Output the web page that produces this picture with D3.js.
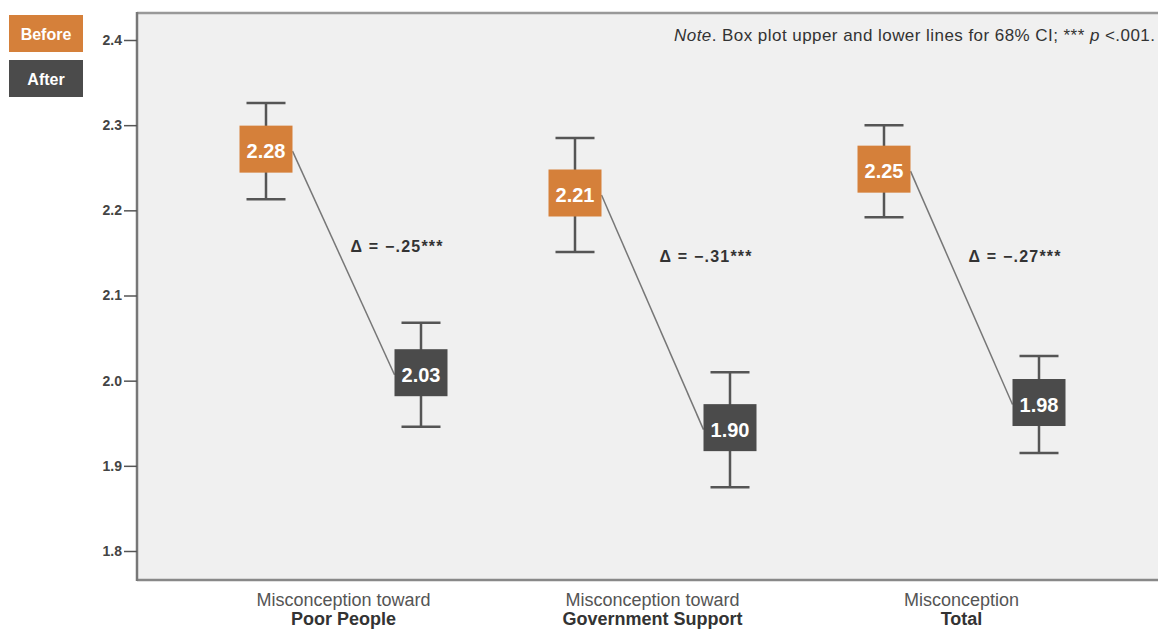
<!DOCTYPE html>
<html>
<head>
<meta charset="utf-8">
<script src="https://cdn.jsdelivr.net/npm/d3@7"></script>
<style>
  body { margin: 0; background: #fff; }
  svg { display: block; font-family: "Liberation Sans", Arial, sans-serif; }
</style>
</head>
<body>
<svg id="chart" width="1158" height="630"></svg>
<script>

// data
const categories = ["Poor People", "Government Support", "Total"];
const catLine1 = ["Misconception toward", "Misconception toward", "Misconception"];
const beforeMean = [2.28, 2.21, 2.25];
const beforeLow = [2.213, 2.151, 2.192];
const beforeHigh = [2.326, 2.285, 2.300];
const afterMean = [2.03, 1.90, 1.98];
const afterLow = [1.946, 1.875, 1.915];
const afterHigh = [2.068, 2.010, 2.029];
const deltas = ["\u2212.25", "\u2212.31", "\u2212.27"];
const yTicks = [1.8, 1.9, 2.0, 2.1, 2.2, 2.3, 2.4];

const orange = "#d5803a";
const dark = "#4b4b4b";

let svg = d3.select("#chart");

let frame = { left: 137, top: 13, right: 1158, bottom: 580 };

let y = d3.scaleLinear().domain([1.8, 2.4]).range([551, 40]);
let x = d3.scalePoint().domain(categories).range([343.5, 961.5]);
let pairOffset = 77.5;
let boxW = 53, boxH = 47, capW = 39;

// plot background + frame
svg.append("rect")
    .attr("x", frame.left).attr("y", frame.top)
    .attr("width", frame.right - frame.left).attr("height", frame.bottom - frame.top)
    .attr("fill", "#f0f0f0");

svg.append("line")
    .attr("x1", frame.left).attr("x2", frame.right)
    .attr("y1", frame.top).attr("y2", frame.top)
    .attr("stroke", "#999").attr("stroke-width", 2.5);
svg.append("line")
    .attr("x1", frame.left).attr("x2", frame.right)
    .attr("y1", frame.bottom).attr("y2", frame.bottom)
    .attr("stroke", "#888").attr("stroke-width", 2.5);
svg.append("line")
    .attr("x1", frame.left).attr("x2", frame.left)
    .attr("y1", frame.top - 1).attr("y2", frame.bottom + 1)
    .attr("stroke", "#777").attr("stroke-width", 2.5);

// y axis
let yAxis = svg.append("g")
    .attr("transform", `translate(${frame.left},0)`)
    .call(d3.axisLeft(y).tickValues(yTicks).tickSize(13).tickPadding(2).tickFormat(d3.format(".1f")));
yAxis.select(".domain").remove();
yAxis.selectAll(".tick line").attr("stroke", "#555").attr("stroke-width", 1.5);
yAxis.selectAll(".tick text")
    .attr("fill", "#444")
    .style("font-size", "14px")
    .style("font-weight", "bold");

// note
let note = svg.append("text")
    .attr("x", 1155).attr("y", 41)
    .attr("text-anchor", "end")
    .attr("fill", "#333")
    .attr("textLength", 481).attr("lengthAdjust", "spacing")
    .style("font-size", "17px");
note.append("tspan").style("font-style", "italic").text("Note");
note.append("tspan").text(". Box plot upper and lower lines for 68% CI; *** ");
note.append("tspan").style("font-style", "italic").text("p");
note.append("tspan").text(" <.001.");

// legend
let legend = [["Before", orange, 15], ["After", dark, 60]];
legend.forEach(l => {
    svg.append("rect")
        .attr("x", 9).attr("y", l[2]).attr("width", 74).attr("height", 37)
        .attr("fill", l[1]);
    svg.append("text")
        .attr("x", 46).attr("y", l[2] + 19)
        .attr("text-anchor", "middle").attr("dominant-baseline", "central")
        .attr("fill", "#fff")
        .style("font-size", "16px").style("font-weight", "bold")
        .text(l[0]);
});

function mid(lo, hi) { return y((lo + hi) / 2); }

// connector lines (behind boxes)
categories.forEach((c, i) => {
    let bx = x(c) - pairOffset, ax = x(c) + pairOffset;
    svg.append("line")
        .attr("x1", bx + boxW / 2).attr("y1", mid(beforeLow[i], beforeHigh[i]))
        .attr("x2", ax - boxW / 2).attr("y2", mid(afterLow[i], afterHigh[i]))
        .attr("stroke", "#777").attr("stroke-width", 1.5);
});

function drawBox(cx, lo, hi, val, color) {
    let g = svg.append("g");
    g.append("line")
        .attr("x1", cx).attr("x2", cx).attr("y1", y(hi)).attr("y2", y(lo))
        .attr("stroke", "#555").attr("stroke-width", 2.5);
    [lo, hi].forEach(v => {
        g.append("line")
            .attr("x1", cx - capW / 2).attr("x2", cx + capW / 2)
            .attr("y1", y(v)).attr("y2", y(v))
            .attr("stroke", "#555").attr("stroke-width", 2.5);
    });
    let cy = mid(lo, hi) - 2;
    g.append("rect")
        .attr("x", cx - boxW / 2).attr("y", cy - boxH / 2)
        .attr("width", boxW).attr("height", boxH)
        .attr("fill", color);
    g.append("text")
        .attr("x", cx).attr("y", cy + 2)
        .attr("text-anchor", "middle").attr("dominant-baseline", "central")
        .attr("fill", "#fff")
        .style("font-size", "20px").style("font-weight", "bold")
        .text(val.toFixed(2));
}

categories.forEach((c, i) => {
    drawBox(x(c) - pairOffset, beforeLow[i], beforeHigh[i], beforeMean[i], orange);
    drawBox(x(c) + pairOffset, afterLow[i], afterHigh[i], afterMean[i], dark);
});

// delta labels
let deltaLevel = [2.158, 2.146, 2.146];
categories.forEach((c, i) => {
    svg.append("text")
        .attr("x", x(c) + 53).attr("y", y(deltaLevel[i]))
        .attr("text-anchor", "middle").attr("dominant-baseline", "central")
        .attr("fill", "#333")
        .attr("textLength", 92).attr("lengthAdjust", "spacing")
        .style("font-size", "16px").style("font-weight", "bold")
        .text("\u0394 = " + deltas[i] + "***");
});

// category labels
categories.forEach((c, i) => {
    svg.append("text")
        .attr("x", x(c)).attr("y", 606)
        .attr("text-anchor", "middle")
        .attr("fill", "#555")
        .style("font-size", "18px")
        .text(catLine1[i]);
    svg.append("text")
        .attr("x", x(c)).attr("y", 625)
        .attr("text-anchor", "middle")
        .attr("fill", "#333")
        .style("font-size", "18px").style("font-weight", "bold")
        .text(c);
});

</script>
</body>
</html>
